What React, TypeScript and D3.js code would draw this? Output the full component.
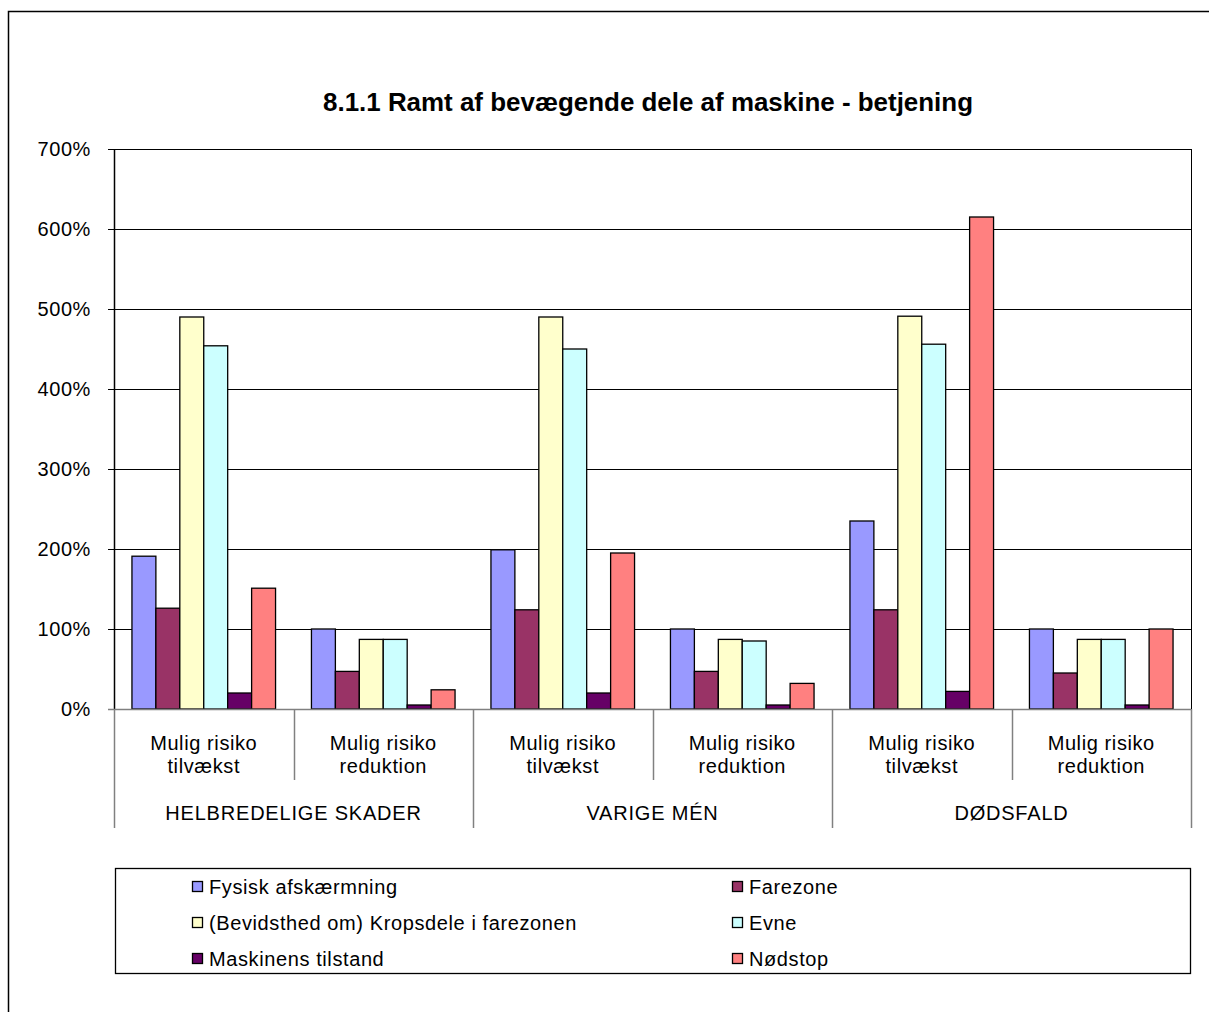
import React from "react";
import * as d3 from "d3";

const title = "8.1.1 Ramt af bevægende dele af maskine - betjening";
const groups = ["HELBREDELIGE SKADER", "VARIGE MÉN", "DØDSFALD"];
const subCategories = ["Mulig risiko\ntilvækst", "Mulig risiko\nreduktion"];
const seriesNames = [
  "Fysisk afskærmning",
  "Farezone",
  "(Bevidsthed om) Kropsdele i farezonen",
  "Evne",
  "Maskinens tilstand",
  "Nødstop",
];
const seriesColors = ["#9999FF", "#993366", "#FFFFCC", "#CCFFFF", "#660066", "#FF8080"];
// values in %, one array per series, ordered by (group, subcategory)
const fysisk = [191, 100, 199, 100, 235, 100];
const farezone = [126, 47, 124, 47, 124, 45];
const bevidsthed = [490, 87, 490, 87, 491, 87];
const evne = [454, 87, 450, 85, 456, 87];
const maskinens = [20, 5, 20, 5, 22, 5];
const nodstop = [151, 24, 195, 32, 615, 100];
const seriesValues = [fysisk, farezone, bevidsthed, evne, maskinens, nodstop];
const yTicks = [0, 100, 200, 300, 400, 500, 600, 700];

const FONT = "'Liberation Sans', Arial, sans-serif";
const LS = 0.6;

export default function App() {
  const left = 114, right = 1191, top = 149, bottom = 709;
  const cats = groups.flatMap((g, gi) => subCategories.map((s, si) => ({ g, gi, s, si, key: `${gi}-${si}` })));
  const x0 = d3.scaleBand<string>().domain(cats.map((c) => c.key)).range([left, right]).paddingInner(0).paddingOuter(0);
  const x1 = d3.scaleBand<string>().domain(seriesNames).range([0, x0.bandwidth()]).paddingInner(0).paddingOuter(0.75);
  const y = d3.scaleLinear().domain([0, 700]).range([bottom, top]);
  const groupW = x0.bandwidth() * subCategories.length;

  const legendRows = [
    [0, 1],
    [2, 3],
    [4, 5],
  ];
  const legendCols = [192, 732];
  const legendRowY = [887, 923, 959];

  return (
    <svg width={1209} height={1012} style={{ position: "absolute", left: 0, top: 0, background: "#fff" }} fontFamily={FONT}>
      <rect x={0} y={0} width={1209} height={1012} fill="#fff" />
      {/* outer chart border */}
      <path d="M8.5,1012 V11.5 H1209" fill="none" stroke="#000" strokeWidth={1.5} />
      <text x={323} y={111} fontSize={25} fontWeight="bold" fill="#000" textLength={650} lengthAdjust="spacingAndGlyphs">
        {title}
      </text>
      {/* gridlines */}
      {yTicks.filter((t) => t > 0).map((t) => (
        <line key={t} x1={left - 6} x2={right} y1={Math.round(y(t)) + 0.5} y2={Math.round(y(t)) + 0.5} stroke="#000" strokeWidth={1} />
      ))}
      <line x1={right + 0.5} x2={right + 0.5} y1={top} y2={bottom} stroke="#000" strokeWidth={1} />
      {/* bars */}
      {cats.map((c, ci) => (
        <g key={c.key}>
          {seriesNames.map((sn, si) => {
            const v = seriesValues[si][ci];
            const bx = (x0(c.key) as number) + (x1(sn) as number);
            return (
              <rect
                key={sn}
                x={bx}
                y={y(v)}
                width={x1.bandwidth()}
                height={bottom - y(v)}
                fill={seriesColors[si]}
                stroke="#000"
                strokeWidth={1.3}
              />
            );
          })}
        </g>
      ))}
      {/* y axis */}
      <line x1={left + 0.5} x2={left + 0.5} y1={top} y2={bottom} stroke="#000" strokeWidth={1.5} />
      {yTicks.map((t) => (
        <text key={t} x={91} y={y(t) + 7} textAnchor="end" fontSize={20} letterSpacing={LS} fill="#000">
          {`${t}%`}
        </text>
      ))}
      {/* x axis */}
      <line x1={left - 6} x2={right} y1={bottom + 0.5} y2={bottom + 0.5} stroke="#808080" strokeWidth={1.5} />
      {cats.map((c) => {
        const cx = (x0(c.key) as number) + x0.bandwidth() / 2;
        const lines = c.s.split("\n");
        return (
          <g key={c.key}>
            {lines.map((ln, li) => (
              <text key={li} x={cx} y={750 + li * 23} textAnchor="middle" fontSize={20} letterSpacing={LS} fill="#000">
                {ln}
              </text>
            ))}
          </g>
        );
      })}
      {cats.map((c) => {
        const xs = x0(c.key) as number;
        const long = c.si === 0;
        return (
          <line key={"d" + c.key} x1={Math.round(xs) + 0.5} x2={Math.round(xs) + 0.5} y1={bottom} y2={long ? 828 : 780} stroke="#808080" strokeWidth={1.5} />
        );
      })}
      <line x1={right + 0.5} x2={right + 0.5} y1={bottom} y2={828} stroke="#808080" strokeWidth={1.5} />
      {groups.map((g, gi) => {
        const xs = x0(`${gi}-0`) as number;
        return (
          <text key={g} x={xs + groupW / 2} y={820} textAnchor="middle" fontSize={20} letterSpacing={0.8} fill="#000">
            {g}
          </text>
        );
      })}
      {/* legend */}
      <rect x={115.5} y={868.5} width={1075} height={105} fill="#fff" stroke="#000" strokeWidth={1.3} />
      {legendRows.map((row, ri) =>
        row.map((si, colI) => (
          <g key={si}>
            <rect x={legendCols[colI] + 0.5} y={legendRowY[ri] - 5.5} width={10} height={10} fill={seriesColors[si]} stroke="#000" strokeWidth={1.3} />
            <text x={legendCols[colI] + 17} y={legendRowY[ri] + 7} fontSize={20} letterSpacing={LS} fill="#000">
              {seriesNames[si]}
            </text>
          </g>
        ))
      )}
    </svg>
  );
}
